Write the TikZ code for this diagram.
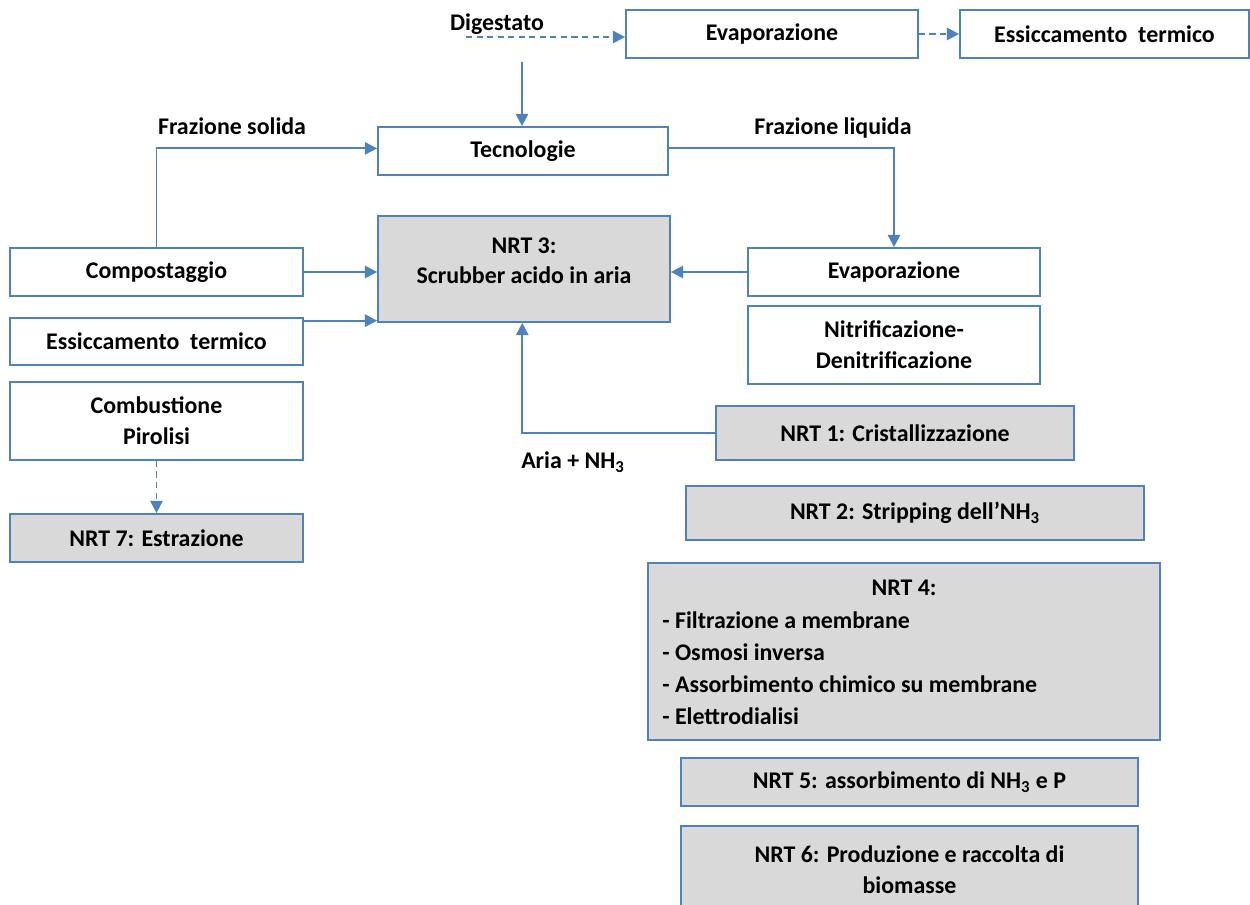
\documentclass[tikz,border=0pt]{standalone}
\usepackage{fontspec}
\setmainfont{Carlito}
\usetikzlibrary{arrows.meta}
\definecolor{bordo}{RGB}{79,129,189}
\definecolor{grigio}{RGB}{217,217,217}

\begin{document}
\begin{tikzpicture}[
		x=0.02cm, y=-0.02cm,
		every node/.style={font=\bfseries\fontsize{13.6}{17.5}\selectfont},
		scatola/.style={draw=bordo, line width=1pt, fill=white, inner sep=0pt, align=center},
		nrt/.style={scatola, fill=grigio},
		freccia/.style={draw=bordo, line width=1.1pt, -{Triangle[length=7pt,width=7pt]}},
		tratteggio/.style={freccia, dash pattern=on 3.5pt off 2.5pt}
	]
	\useasboundingbox (0,0) rectangle (1250,904);

	% colonna centrale
	\node[scatola, minimum width=5.84cm, minimum height=0.96cm] (evapA) at (772,34) {Evaporazione};
	\node[scatola, minimum width=5.78cm, minimum height=0.96cm] (essA) at (1104.5,34) {Essiccamento\ \ termico};
	\node[scatola, minimum width=5.8cm, minimum height=0.96cm] (tecno) at (523,151) {Tecnologie};
	\node[nrt, minimum width=5.84cm, minimum height=2.12cm] (nrt3) at (524,269) {NRT 3:\\Scrubber acido in aria\\[-8pt]\mbox{}};

	% colonna sinistra
	\node[scatola, minimum width=5.86cm, minimum height=0.96cm] (compo) at (156.5,272) {Compostaggio};
	\node[scatola, minimum width=5.86cm, minimum height=0.94cm] (essB) at (156.5,341.5) {Essiccamento\ \ termico};
	\node[scatola, minimum width=5.86cm, minimum height=1.56cm] (combu) at (156.5,421) {Combustione\\Pirolisi};
	\node[nrt, minimum width=5.86cm, minimum height=0.96cm] (nrt7) at (156.5,538) {NRT 7: Estrazione};

	% colonna destra
	\node[scatola, minimum width=5.84cm, minimum height=0.96cm] (evapB) at (894,272) {Evaporazione};
	\node[scatola, minimum width=5.84cm, minimum height=1.56cm] (nitri) at (894,345) {Nitrificazione-\\Denitrificazione};
	\node[nrt, minimum width=7.16cm, minimum height=1.08cm] (nrt1) at (895,433) {NRT 1: Cristallizzazione};
	\node[nrt, minimum width=9.16cm, minimum height=1.08cm] (nrt2) at (915,513) {NRT 2: Stripping dell’NH\textsubscript{3}};
	\node[nrt, minimum width=10.24cm, minimum height=3.54cm] (nrt4) at (904,651.5) {};
	\node (nrt4t) at (904,588) {NRT 4:};
	\node[anchor=west, align=left, inner sep=0pt] (nrt4l) at (662,668.5) {- Filtrazione a membrane\\[0.7pt]- Osmosi inversa\\[0.7pt]- Assorbimento chimico su membrane\\[0.7pt]- Elettrodialisi};
	\node[nrt, minimum width=9.14cm, minimum height=0.96cm] (nrt5) at (909.5,782) {NRT 5: assorbimento di NH\textsubscript{3} e P};
	\node[nrt, minimum width=9.14cm, minimum height=1.76cm] (nrt6) at (909.5,870) {NRT 6: Produzione e raccolta di\\biomasse};

	% etichette
	\node (dig) at (497,24) {Digestato};
	\node (solida) at (232,126) {Frazione solida};
	\node (liquida) at (833,128) {Frazione liquida};
	\node (aria) at (573,462) {Aria + NH\textsubscript{3}};
	\coordinate (digS) at (466,37);
	\coordinate (digV) at (522,62);

	% frecce
	\draw[tratteggio] (digS) -- (digS -| evapA.west);
	\draw[tratteggio] (evapA) -- (essA);
	\draw[freccia] (digV) -- (digV |- tecno.north);
	\draw[freccia] (compo.north) |- ([yshift=1.5pt]tecno.west);
	\draw[freccia] ([yshift=1.5pt]tecno.east) -| (evapB.north);
	\draw[freccia] (compo.east) -- (compo.east -| nrt3.west);
	\draw[freccia] ([yshift=-2pt]essB.north east) -- ([yshift=-2pt]essB.north east -| nrt3.west);
	\draw[freccia] (evapB.west) -- (evapB.west -| nrt3.east);
	\draw[freccia] (nrt1.west) -| ([xshift=-1pt]nrt3.south);
	\draw[tratteggio] (combu.south) -- (nrt7.north);
\end{tikzpicture}
\end{document}
